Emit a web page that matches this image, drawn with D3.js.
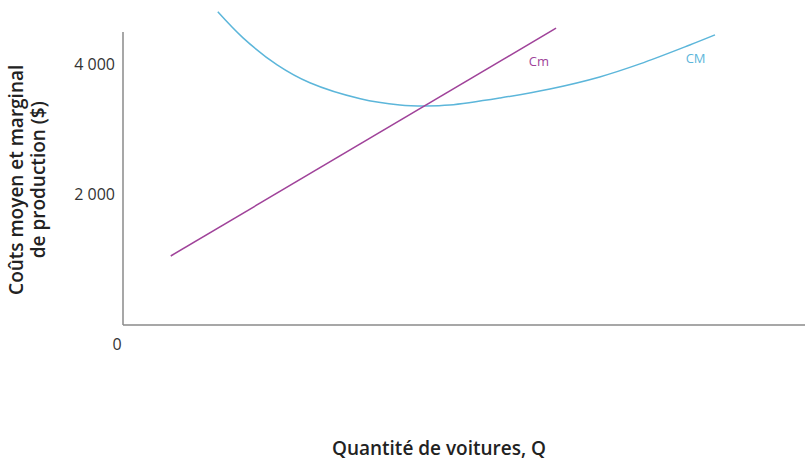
<!DOCTYPE html>
<html>
<head>
<meta charset="utf-8">
<script src="https://cdn.jsdelivr.net/npm/d3@7"></script>
<style>
  body { margin: 0; background: #fff; }
  text { font-family: "Open Sans", "Noto Sans", sans-serif; }
</style>
</head>
<body>
<div id="chart"></div>
<script>
// quantity of cars (arbitrary units, no ticks on the x axis)
var cmQ = [7, 63.5];
var cmCost = [1060, 4560];

var avgQ = [13.9, 17.6, 22.6, 27.4, 34.8, 40.6, 44.3, 47.9, 55.3, 62.6, 69.9, 75.8, 83.1, 86.8];
var avgCost = [4810, 4410, 3995, 3720, 3475, 3380, 3365, 3378, 3487, 3625, 3810, 4010, 4300, 4455];

var yTicks = [2000, 4000];
var yTickLabels = ["2 000", "4 000"];

var imgWidth = 810,
    imgHeight = 472;
var margin = {top: 32, right: 5, bottom: 147, left: 123},
    width = imgWidth - margin.left - margin.right,
    height = imgHeight - margin.top - margin.bottom;

var x = d3.scaleLinear().domain([0, 100]).range([0, width]),
    y = d3.scaleLinear().domain([0, 4500]).range([height, 0]);

var svg = d3.select("#chart").append("svg")
    .attr("width", imgWidth)
    .attr("height", imgHeight);
var g = svg.append("g")
    .attr("transform", "translate(" + margin.left + "," + margin.top + ")");

// axes: plain lines, no tick marks
g.append("line")
    .attr("x1", 0).attr("y1", 0)
    .attr("x2", 0).attr("y2", height)
    .attr("stroke", "#8a8a8a").attr("stroke-width", 1.5);
g.append("line")
    .attr("x1", 0).attr("y1", height)
    .attr("x2", width).attr("y2", height)
    .attr("stroke", "#8a8a8a").attr("stroke-width", 1.5);

g.selectAll(".ytick")
    .data(yTicks)
    .enter().append("text")
    .attr("class", "ytick")
    .attr("x", -8)
    .attr("y", function(d) { return y(d); })
    .attr("dy", "0.35em")
    .attr("text-anchor", "end")
    .attr("fill", "#333")
    .style("font-size", "16px")
    .text(function(d, i) { return yTickLabels[i]; });

g.append("text")
    .attr("x", -6)
    .attr("y", height + 25)
    .attr("text-anchor", "middle")
    .attr("fill", "#333")
    .style("font-size", "16px")
    .text("0");

// clip lines to the top of the plot area
svg.append("clipPath").attr("id", "clip")
    .append("rect")
    .attr("x", 0).attr("y", -22)
    .attr("width", width).attr("height", height + 22);

var line = d3.line()
    .x(function(d) { return x(d[0]); })
    .y(function(d) { return y(d[1]); })
    .curve(d3.curveCatmullRom);

g.append("path")
    .datum(avgQ.map(function(q, i) { return [q, avgCost[i]]; }))
    .attr("fill", "none")
    .attr("stroke", "#5cb6da")
    .attr("stroke-width", 1.5)
    .attr("clip-path", "url(#clip)")
    .attr("d", line);

g.append("path")
    .datum(cmQ.map(function(q, i) { return [q, cmCost[i]]; }))
    .attr("fill", "none")
    .attr("stroke", "#a0439a")
    .attr("stroke-width", 1.5)
    .attr("d", line);

g.append("text")
    .attr("x", x(59.5))
    .attr("y", y(4050))
    .attr("dy", "0.35em")
    .attr("fill", "#a0439a")
    .style("font-size", "13px")
    .text("Cm");

g.append("text")
    .attr("x", x(82.5))
    .attr("y", y(4100))
    .attr("dy", "0.35em")
    .attr("fill", "#5cb6da")
    .style("font-size", "13px")
    .text("CM");

// axis titles
svg.append("text")
    .attr("x", 439)
    .attr("y", 455)
    .attr("text-anchor", "middle")
    .attr("fill", "#222")
    .style("font-size", "19px")
    .style("font-weight", "600")
    .text("Quantité de voitures, Q");

var ylab = svg.append("text")
    .attr("transform", "translate(0," + (margin.top + y(2230)) + ") rotate(-90)")
    .attr("text-anchor", "middle")
    .attr("fill", "#222")
    .style("font-size", "19px")
    .style("font-weight", "600");
ylab.append("tspan").attr("x", 0).attr("y", 23).text("Coûts moyen et marginal");
ylab.append("tspan").attr("x", 0).attr("y", 45).text("de production ($)");
</script>
</body>
</html>
